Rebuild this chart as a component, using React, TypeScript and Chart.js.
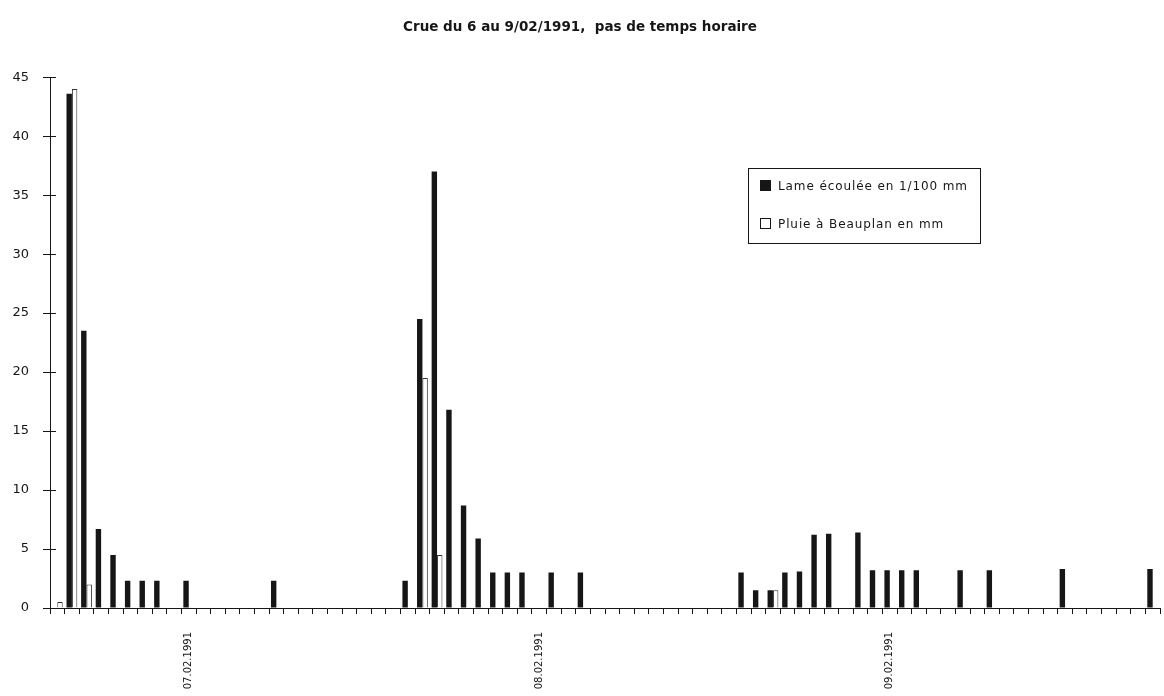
import React, { useEffect, useRef } from "react";
import { Chart, registerables } from "chart.js";

Chart.register(...registerables);

const TITLE = "Crue du 6 au 9/02/1991,  pas de temps horaire";

const categories = [
  "06.02 15h", "06.02 16h", "06.02 17h", "06.02 18h", "06.02 19h", "06.02 20h", "06.02 21h", "06.02 22h", "06.02 23h",
  "07.02 00h", "07.02 01h", "07.02 02h", "07.02 03h", "07.02 04h", "07.02 05h", "07.02 06h", "07.02 07h",
  "07.02 08h", "07.02 09h", "07.02 10h", "07.02 11h", "07.02 12h", "07.02 13h", "07.02 14h", "07.02 15h",
  "07.02 16h", "07.02 17h", "07.02 18h", "07.02 19h", "07.02 20h", "07.02 21h", "07.02 22h", "07.02 23h",
  "08.02 00h", "08.02 01h", "08.02 02h", "08.02 03h", "08.02 04h", "08.02 05h", "08.02 06h", "08.02 07h",
  "08.02 08h", "08.02 09h", "08.02 10h", "08.02 11h", "08.02 12h", "08.02 13h", "08.02 14h", "08.02 15h",
  "08.02 16h", "08.02 17h", "08.02 18h", "08.02 19h", "08.02 20h", "08.02 21h", "08.02 22h", "08.02 23h",
  "09.02 00h", "09.02 01h", "09.02 02h", "09.02 03h", "09.02 04h", "09.02 05h", "09.02 06h", "09.02 07h",
  "09.02 08h", "09.02 09h", "09.02 10h", "09.02 11h", "09.02 12h", "09.02 13h", "09.02 14h", "09.02 15h",
  "09.02 16h", "09.02 17h", "09.02 18h",
];

const dateTickCategories = ["07.02 00h", "08.02 00h", "09.02 00h"];
const dateTickLabels = ["07.02.1991", "08.02.1991", "09.02.1991"];

// Lame écoulée en 1/100 mm
const lame = [
  0, 43.6, 23.5, 6.7, 4.5, 2.3, 2.3, 2.3, 0,
  2.3, 0, 0, 0, 0, 0, 2.3, 0,
  0, 0, 0, 0, 0, 0, 0, 2.3,
  24.5, 37, 16.8, 8.7, 5.9, 3, 3, 3,
  0, 3, 0, 3, 0, 0, 0, 0,
  0, 0, 0, 0, 0, 0, 3, 1.5,
  1.5, 3, 3.1, 6.2, 6.3, 0, 6.4, 3.2,
  3.2, 3.2, 3.2, 0, 0, 3.2, 0, 3.2,
  0, 0, 0, 0, 3.3, 0, 0, 0,
  0, 0, 3.3,
];

// Pluie à Beauplan en mm
const pluie = [
  0.5, 44, 2, 0, 0, 0, 0, 0, 0,
  0, 0, 0, 0, 0, 0, 0, 0,
  0, 0, 0, 0, 0, 0, 0, 0,
  19.5, 4.5, 0, 0, 0, 0, 0, 0,
  0, 0, 0, 0, 0, 0, 0, 0,
  0, 0, 0, 0, 0, 0, 0, 0,
  1.5, 0, 0, 0, 0, 0, 0, 0,
  0, 0, 0, 0, 0, 0, 0, 0,
  0, 0, 0, 0, 0, 0, 0, 0,
  0, 0, 0,
];

const seriesLabels = ["Lame écoulée en 1/100 mm", "Pluie à Beauplan en mm"];

const INK = "#161616";
const FONT = "DejaVu Sans";

const decorPlugin = {
  id: "decor",
  afterDraw(chart: any) {
    const ctx = chart.ctx;
    const ca = chart.chartArea;
    const y = chart.scales.y;
    ctx.save();
    // inner half of the y ticks (they cross the axis)
    ctx.strokeStyle = INK;
    ctx.lineWidth = 1;
    y.ticks.forEach((t: any) => {
      const py = Math.round(y.getPixelForValue(t.value)) + 0.5;
      ctx.beginPath();
      ctx.moveTo(ca.left, py);
      ctx.lineTo(ca.left + 6, py);
      ctx.stroke();
    });
    // legend box
    const bx = 748.5, by = 168.5, bw = 232, bh = 75;
    ctx.fillStyle = "#fff";
    ctx.fillRect(bx, by, bw, bh);
    ctx.strokeStyle = INK;
    ctx.strokeRect(bx, by, bw, bh);
    ctx.font = `12px "${FONT}"`;
    try {
      (ctx as any).letterSpacing = "0.9px";
    } catch (e) {}
    ctx.textBaseline = "middle";
    ctx.textAlign = "left";
    const ds = chart.data.datasets;
    const rows = [186, 224];
    ds.forEach((d: any, i: number) => {
      const ry = rows[i];
      if (d.backgroundColor === "#ffffff") {
        ctx.fillStyle = "#fff";
        ctx.fillRect(760.5, ry - 5.5, 10, 10);
        ctx.strokeStyle = INK;
        ctx.strokeRect(760.5, ry - 5.5, 10, 10);
      } else {
        ctx.fillStyle = d.backgroundColor;
        ctx.fillRect(760, ry - 6, 11, 11);
      }
      ctx.fillStyle = INK;
      ctx.fillText(d.label, 778, ry + 0.5);
    });
    ctx.restore();
  },
};

export default function App() {
  const ref = useRef<HTMLCanvasElement | null>(null);

  useEffect(() => {
    if (!ref.current) return;
    Chart.defaults.font.family = FONT;
    const chart = new Chart(ref.current, {
      type: "bar",
      data: {
        labels: categories,
        datasets: [
          {
            label: seriesLabels[0],
            data: lame,
            backgroundColor: INK,
            borderWidth: 0,
            categoryPercentage: 0.74,
            barPercentage: 1,
          },
          {
            label: seriesLabels[1],
            data: pluie,
            backgroundColor: "#ffffff",
            borderColor: "#333",
            borderWidth: 1,
            categoryPercentage: 0.74,
            barPercentage: 1,
          },
        ],
      },
      options: {
        responsive: true,
        maintainAspectRatio: false,
        animation: false,
        layout: { padding: { left: 0, right: 4, top: 0, bottom: 0 } },
        plugins: {
          legend: { display: false },
          tooltip: { enabled: false },
          title: {
            display: true,
            text: TITLE,
            color: INK,
            font: { family: FONT, size: 13.5, weight: "bold" },
            padding: { top: 19, bottom: 42 },
          },
        },
        scales: {
          x: {
            offset: true,
            grid: {
              offset: true,
              drawOnChartArea: false,
              drawTicks: true,
              tickLength: 6,
              color: INK,
            },
            border: { color: INK, width: 1 },
            ticks: {
              autoSkip: false,
              maxRotation: 90,
              minRotation: 90,
              padding: 18,
              color: INK,
              font: { family: FONT, size: 10 },
              callback: (_v: any, i: number) => {
                const k = dateTickCategories.indexOf(categories[i]);
                return k >= 0 ? dateTickLabels[k] : "";
              },
            },
            afterFit: (s: any) => {
              s.height = 88;
              s.paddingLeft = 0;
              s.paddingRight = 0;
            },
          },
          y: {
            min: 0,
            max: 45,
            ticks: {
              stepSize: 5,
              padding: 14,
              color: INK,
              font: { family: FONT, size: 13 },
            },
            grid: { drawOnChartArea: false, tickLength: 7, color: INK },
            border: { color: INK, width: 1 },
            afterFit: (s: any) => {
              s.width = 50;
            },
          },
        },
      },
      plugins: [decorPlugin],
    } as any);
    return () => chart.destroy();
  }, []);

  return (
    <div style={{ position: "fixed", left: 0, top: 0, width: 1164, height: 696, background: "#fff" }}>
      <canvas ref={ref} />
    </div>
  );
}
